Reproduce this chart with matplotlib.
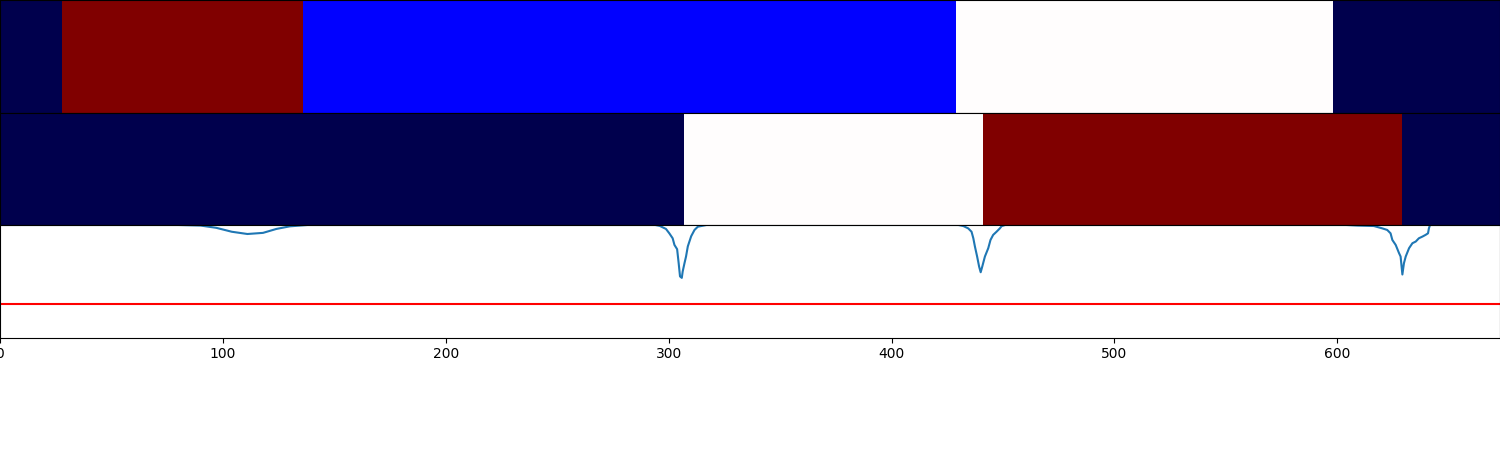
import numpy as np
import matplotlib
matplotlib.use("Agg")
import matplotlib.pyplot as plt

# segmentation rows: segment edges and state label per segment
row1_edges = [0, 28, 136, 429, 598, 673]
row1_labels = [0, 4, 1, 2, 0]
row2_edges = [0, 307, 441, 629, 673]
row2_labels = [0, 2, 4, 0]

# score curve
curve_x = [0, 80, 90, 97, 104, 111, 118, 124, 130, 138,
           294, 296, 298.8, 300.3, 301.8, 302.6, 303.8, 304.5, 305.1, 305.9,
           306.3, 307.1, 307.8, 308.6, 310.1, 311.6, 313.1, 317,
           430, 432.2, 434.4, 435.9, 436.7, 437.4, 438.4, 439.3, 440.0, 440.7,
           441.9, 443.4, 444.4, 445.6, 447.1, 448.6, 449.4, 451,
           604, 608.9, 616.4, 620.2, 622.4, 623.9, 624.7, 626.2, 627.7, 628.4,
           629.2, 629.9, 630.7, 632.2, 633.7, 635.2, 636.6, 638.2, 639.6, 640.7,
           641.1, 641.6, 673]
curve_y = [0, 0, -0.005, -0.025, -0.06, -0.08, -0.07, -0.035, -0.012, 0,
           0, -0.008, -0.035, -0.074, -0.118, -0.177, -0.215, -0.34, -0.457, -0.47,
           -0.413, -0.34, -0.28, -0.19, -0.10, -0.044, -0.015, 0,
           0, -0.009, -0.03, -0.06, -0.118, -0.19, -0.28, -0.37, -0.42, -0.37,
           -0.28, -0.206, -0.133, -0.088, -0.06, -0.03, -0.01, 0,
           0, -0.005, -0.009, -0.03, -0.044, -0.074, -0.133, -0.177, -0.25, -0.28,
           -0.44, -0.34, -0.28, -0.206, -0.162, -0.147, -0.118, -0.103, -0.088, -0.074,
           -0.03, 0, 0]
threshold = -0.70
n_samples = 673

fig, axes = plt.subplots(3, 1, figsize=(15, 4.5), sharex=True)
plt.subplots_adjust(left=0, right=1, top=1, bottom=0.25, hspace=0)

for ax, edges, labels in zip(axes[:2], [row1_edges, row2_edges], [row1_labels, row2_labels]):
    ax.pcolormesh(edges, [0, 1], np.array([labels]), cmap='seismic', vmin=0, vmax=4)
    ax.set_ylim(0, 1)
    ax.set_yticks([])
    ax.tick_params(axis='x', length=0)

ax = axes[2]
ax.plot(curve_x, curve_y, color='C0', lw=1.5)
ax.axhline(threshold, color='red', lw=1.5)
ax.set_ylim(-1, 0)
ax.set_yticks([])
ax.set_xlim(0, n_samples)
ax.set_xticks([0, 100, 200, 300, 400, 500, 600])

plt.savefig("out.png", dpi=100)
